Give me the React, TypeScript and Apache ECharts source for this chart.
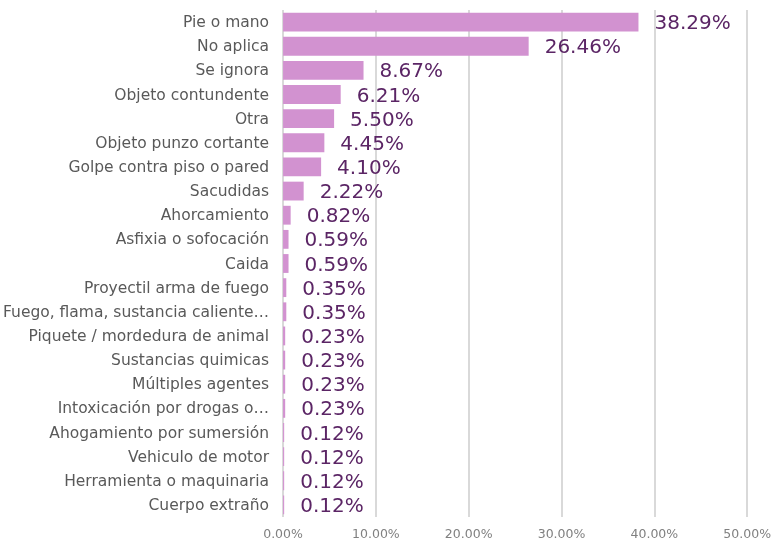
import React, { useEffect, useRef } from "react";
import * as echarts from "echarts";

const categories = [
  "Pie o mano",
  "No aplica",
  "Se ignora",
  "Objeto contundente",
  "Otra",
  "Objeto punzo cortante",
  "Golpe contra piso o pared",
  "Sacudidas",
  "Ahorcamiento",
  "Asfixia o sofocación",
  "Caida",
  "Proyectil arma de fuego",
  "Fuego, flama, sustancia caliente…",
  "Piquete / mordedura de animal",
  "Sustancias quimicas",
  "Múltiples agentes",
  "Intoxicación por drogas o…",
  "Ahogamiento por sumersión",
  "Vehiculo de motor",
  "Herramienta o maquinaria",
  "Cuerpo extraño",
];

const values = [
  38.29, 26.46, 8.67, 6.21, 5.5, 4.45, 4.1, 2.22, 0.82, 0.59, 0.59, 0.35, 0.35,
  0.23, 0.23, 0.23, 0.23, 0.12, 0.12, 0.12, 0.12,
];

const xMin = 0;
const xMax = 50;
const xInterval = 10;

export default function App() {
  const ref = useRef<HTMLDivElement>(null);
  useEffect(() => {
    if (!ref.current) return;
    const chart = echarts.init(ref.current, undefined, { renderer: "svg" });
    chart.setOption({
      animation: false,
      grid: { left: 283, right: 26, top: 10, bottom: 23, containLabel: false },
      xAxis: {
        type: "value",
        min: xMin,
        max: xMax,
        interval: xInterval,
        axisLine: { show: false },
        axisTick: { show: false },
        splitLine: { show: true, lineStyle: { color: "#d9d9d9", width: 2 } },
        axisLabel: {
          formatter: (v: number) => v.toFixed(2) + "%",
          color: "#808080",
          fontSize: 12.5,
          fontFamily: "DejaVu Sans",
          margin: 10,
        },
      },
      yAxis: {
        type: "category",
        data: categories,
        inverse: true,
        axisLine: { show: false },
        axisTick: { show: false },
        axisLabel: {
          color: "#595959",
          fontSize: 15.5,
          fontFamily: "DejaVu Sans",
          margin: 14,
        },
      },
      series: [
        {
          type: "bar",
          data: values,
          barWidth: "78%",
          itemStyle: { color: "#D292D0" },
          label: {
            show: true,
            position: "right",
            distance: 16,
            formatter: (p: any) => p.value.toFixed(2) + "%",
            color: "#5B2565",
            fontSize: 20,
            fontFamily: "DejaVu Sans",
          },
        },
      ],
    });
    return () => chart.dispose();
  }, []);
  return (
    <div
      ref={ref}
      style={{ position: "fixed", left: 0, top: 0, width: 774, height: 540 }}
    />
  );
}
